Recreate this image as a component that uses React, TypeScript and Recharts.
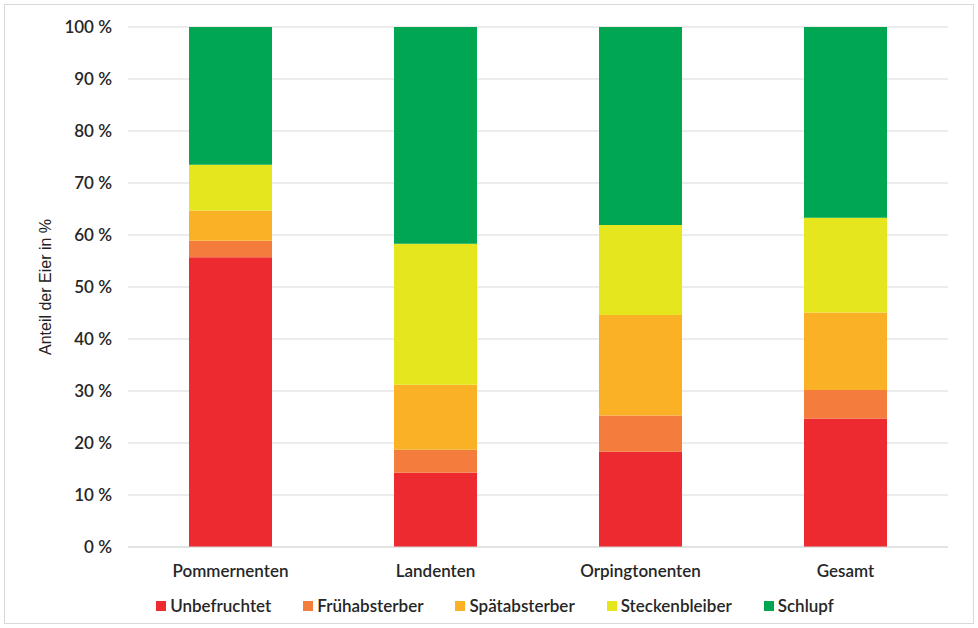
import React from "react";
import { Bar, BarChart, CartesianGrid, Legend, XAxis, YAxis } from "recharts";

const categories = ["Pommernenten", "Landenten", "Orpingtonenten", "Gesamt"];
const unbefruchtet = [55.7, 14.3, 18.3, 24.7];
const fruehabsterber = [3.2, 4.4, 7.0, 5.5];
const spaetabsterber = [5.8, 12.5, 19.3, 14.9];
const steckenbleiber = [8.8, 27.1, 17.3, 18.2];
const schlupf = [26.5, 41.7, 38.1, 36.7];
const yTicks = [0, 10, 20, 30, 40, 50, 60, 70, 80, 90, 100];

const series = [
  { key: "Unbefruchtet", values: unbefruchtet, color: "#ec2a30" },
  { key: "Frühabsterber", values: fruehabsterber, color: "#f47c3c" },
  { key: "Spätabsterber", values: spaetabsterber, color: "#fbb126" },
  { key: "Steckenbleiber", values: steckenbleiber, color: "#e6e61e" },
  { key: "Schlupf", values: schlupf, color: "#00a651" }
];

const data = categories.map((name, i) => {
  const row: Record<string, string | number> = { name };
  series.forEach((s) => {
    row[s.key] = s.values[i];
  });
  return row;
});

const font = "Lato, 'Open Sans', sans-serif";
const tickStyle = { fontSize: 17, fill: "#262626", fontFamily: font, fontWeight: 600 };

// legend keeps the series order (recharts would sort it otherwise)
const LegendBox = () => (
  <div
    style={{
      height: 37,
      display: "flex",
      justifyContent: "center",
      alignItems: "center",
      fontFamily: font,
      fontSize: 17,
      fontWeight: 600,
      color: "#262626",
      paddingLeft: 42
    }}
  >
    {series.map((s) => (
      <span key={s.key} style={{ display: "inline-flex", alignItems: "center", margin: "0 16px" }}>
        <span style={{ width: 10, height: 10, background: s.color, marginRight: 4, display: "inline-block" }} />
        {s.key}
      </span>
    ))}
  </div>
);

export default function App() {
  return (
    <div
      style={{
        position: "absolute",
        left: 0,
        top: 0,
        width: 978,
        height: 628,
        background: "#fff",
        fontFamily: font
      }}
    >
      <div
        style={{
          position: "absolute",
          left: 4,
          top: 4,
          width: 968,
          height: 618,
          border: "1px solid #d9d9d9"
        }}
      />
      <BarChart
        width={978}
        height={628}
        data={data}
        margin={{ top: 27, right: 30, left: 0, bottom: 4 }}
        barCategoryGap={61}
      >
        <CartesianGrid vertical={false} stroke="#d9d9d9" />
        <XAxis
          dataKey="name"
          tickLine={false}
          axisLine={{ stroke: "#d9d9d9" }}
          tick={tickStyle}
          tickMargin={12}
          height={40}
        />
        <YAxis
          domain={[0, 100]}
          ticks={yTicks}
          width={128}
          tickLine={false}
          axisLine={false}
          tickSize={0}
          tickMargin={16}
          tickFormatter={(v: number) => `${v} %`}
          tick={tickStyle}
          label={{
            value: "Anteil der Eier in %",
            angle: -90,
            position: "center",
            dx: -19,
            style: { fontSize: 16, fill: "#222", fontFamily: "'Liberation Sans', Arial, sans-serif" }
          }}
        />
        <Legend verticalAlign="bottom" content={<LegendBox />} />
        {series.map((s) => (
          <Bar key={s.key} dataKey={s.key} stackId="a" fill={s.color} isAnimationActive={false} />
        ))}
      </BarChart>
    </div>
  );
}
